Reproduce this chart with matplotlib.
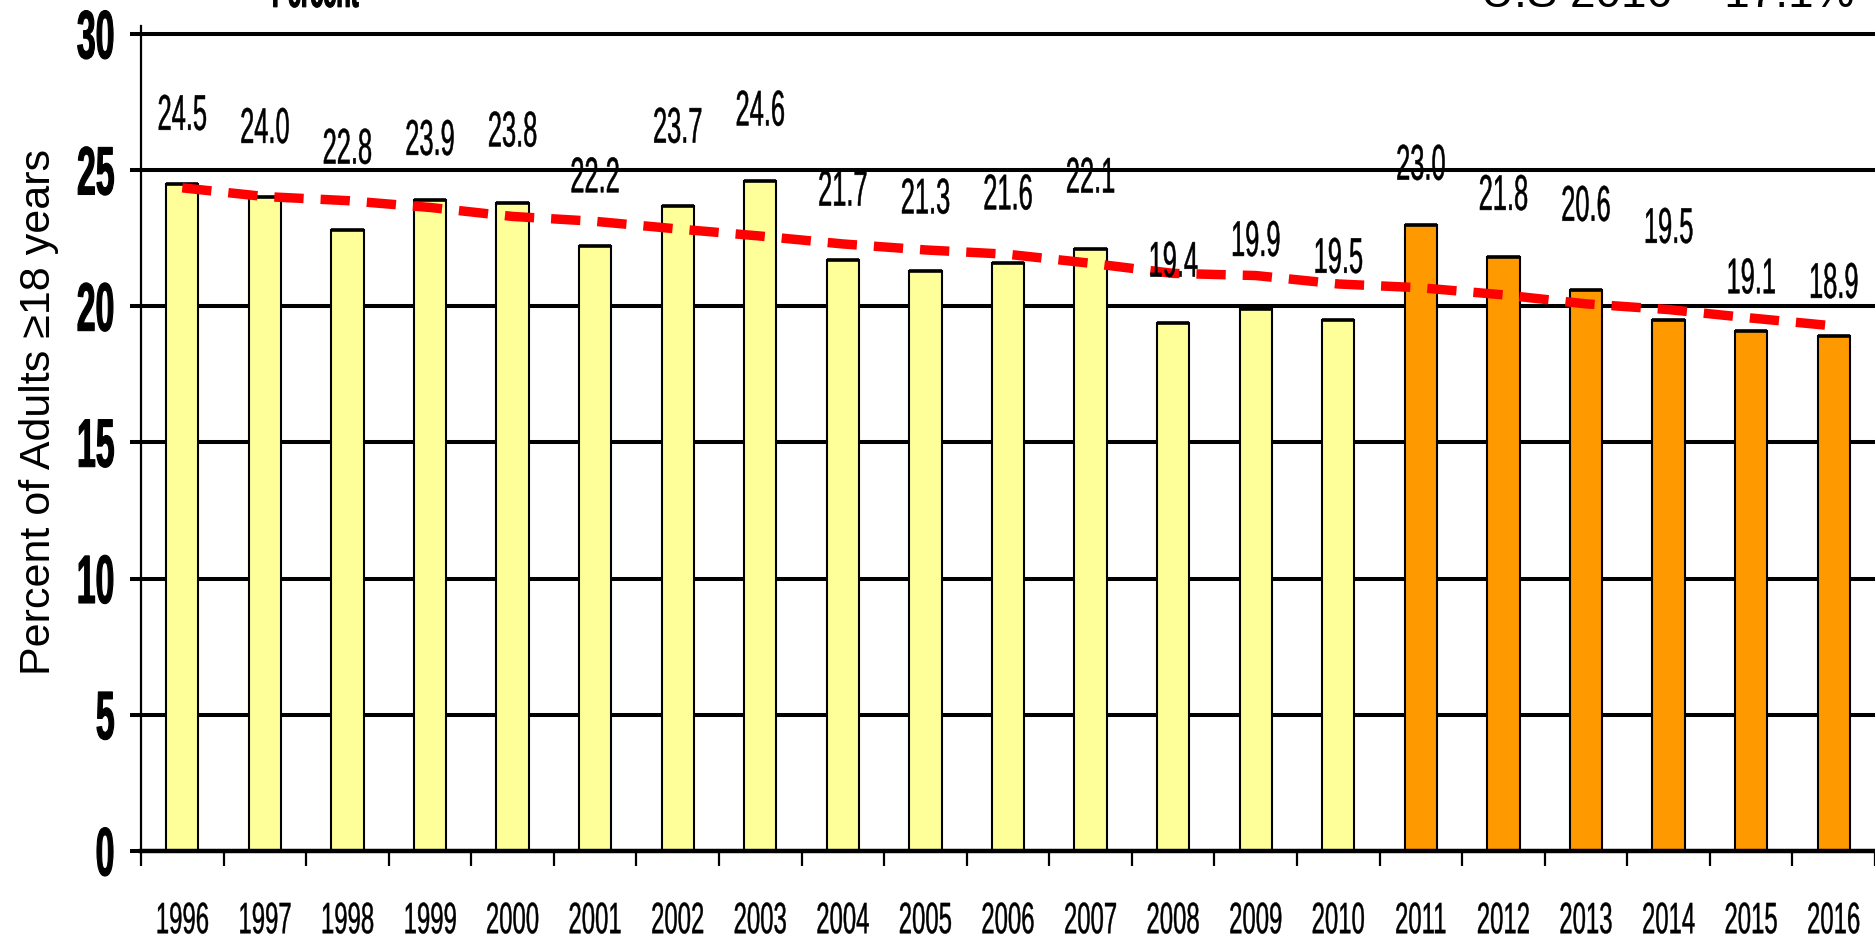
import matplotlib
matplotlib.use('Agg')
import numpy as np
import matplotlib.pyplot as plt
from matplotlib.patheffects import AbstractPathEffect
from matplotlib.transforms import Affine2D

plt.rcParams['font.family'] = ['Liberation Sans', 'DejaVu Sans']

years = [str(y) for y in range(1996, 2017)]
rates = [24.5, 24.0, 22.8, 23.9, 23.8, 22.2, 23.7, 24.6, 21.7, 21.3, 21.6,
         22.1, 19.4, 19.9, 19.5, 23.0, 21.8, 20.6, 19.5, 19.1, 18.9]
trend = [24.35, 24.03, 23.88, 23.63, 23.30, 23.12, 22.84, 22.58, 22.29, 22.07, 21.91,
         21.58, 21.21, 21.13, 20.82, 20.68, 20.42, 20.09, 19.88, 19.57, 19.28]
# how far above each bar its value label sits (percent points)
label_lift = [2.64, 2.66, 3.10, 2.32, 2.73, 2.65, 2.97, 2.70, 2.66, 2.77, 2.62,
              2.74, 2.35, 2.61, 2.39, 2.31, 2.40, 3.20, 3.49, 2.04, 2.07]
orange_from = 2011
us_note = 'U.S 2016 = 17.1%'


class Squeeze(AbstractPathEffect):
    """Draws text narrower and taller, scaled about a point of its ink box.
    lw > 0 also strokes the glyph outlines to make them heavier."""

    def __init__(self, sx, sy, ax=0.5, ay=0.5, lw=0.0):
        super().__init__()
        self.sx, self.sy, self.ax, self.ay, self.lw = sx, sy, ax, ay, lw

    def draw_path(self, renderer, gc, tpath, affine, rgbFace=None):
        ext = tpath.get_extents()
        px = ext.x0 + self.ax * ext.width
        py = ext.y0 + self.ay * ext.height
        squeeze = Affine2D().translate(-px, -py).scale(self.sx, self.sy).translate(px, py)
        if self.lw > 0:
            gc0 = renderer.new_gc()
            gc0.copy_properties(gc)
            gc0.set_linewidth(self.lw)
            gc0.set_foreground(rgbFace)
            gc0.set_joinstyle('round')
            renderer.draw_path(gc0, tpath, squeeze + affine, rgbFace)
            gc0.restore()
        else:
            renderer.draw_path(gc, tpath, squeeze + affine, rgbFace)


W, H = 1875, 940
fig = plt.figure(figsize=(W / 100, H / 100), dpi=100)
ax = fig.add_axes([141 / W, 89 / H, 1 - 141 / W, 825.2 / H])

x = np.arange(len(years))
colors = ['#FFFF99' if int(y) < orange_from else '#FF9900' for y in years]
bw = 0.39
ax.bar(x, rates, width=bw, color=colors, edgecolor='black', linewidth=1.5, zorder=2)
ax.hlines(rates, x - bw / 2, x + bw / 2, colors='black', linewidth=2.6, zorder=3)

ax.plot(x, trend, color='#FF0000', linewidth=6.8, dashes=(3.1, 1.8),
        dash_capstyle='butt', zorder=4)

for i, (v, lift) in enumerate(zip(rates, label_lift)):
    ax.text(i, v + lift, f'{v:.1f}', ha='center', va='center_baseline',
            fontsize=22.6, path_effects=[Squeeze(0.81, 1.6, lw=0.35)], zorder=5)

ax.set_xlim(-0.5, len(years) - 0.5)
ax.set_ylim(0, 30.3)

ax.yaxis.grid(True, color='black', linewidth=2.9)
ax.set_axisbelow(True)
for side in ['top', 'right']:
    ax.spines[side].set_visible(False)
ax.spines['left'].set_linewidth(1.6)
ax.spines['bottom'].set_linewidth(3.2)

ax.set_yticks(range(0, 31, 5))
ax.tick_params(axis='y', length=8, width=2.9, pad=10.8, labelsize=30.8)
for t in ax.get_yticklabels():
    t.set_fontweight('bold')
    t.set_va('center_baseline')
    t.set_path_effects([Squeeze(0.79, 1.6, ax=1.0, lw=0.8)])

ax.set_xticks(x, years)
ax.set_xticks(np.arange(-0.5, len(years)), minor=True)
ax.tick_params(axis='x', which='major', length=0, pad=47.9, labelsize=19.8)
ax.tick_params(axis='x', which='minor', length=10.8, width=1.6, direction='out')
for t in ax.get_xticklabels():
    t.set_va('center_baseline')
    t.set_path_effects([Squeeze(0.87, 1.6, lw=0.3)])

fig.text(50 / W, 1 - 412 / H, 'Percent of Adults ≥18 years', rotation=90,
         rotation_mode='anchor', ha='center', va='baseline', fontsize=31)

# headings above the plot area, mostly outside the top edge
fig.text(315 / W, 1 - 7 / H, 'Percent', ha='center', va='baseline', fontsize=21.5,
         fontweight='bold', path_effects=[Squeeze(0.79, 1.6, ay=0.0, lw=0.8)])
fig.text(1854 / W, 1 - 7 / H, us_note, ha='right', va='baseline', fontsize=33)

fig.savefig('out.png', dpi=100)
